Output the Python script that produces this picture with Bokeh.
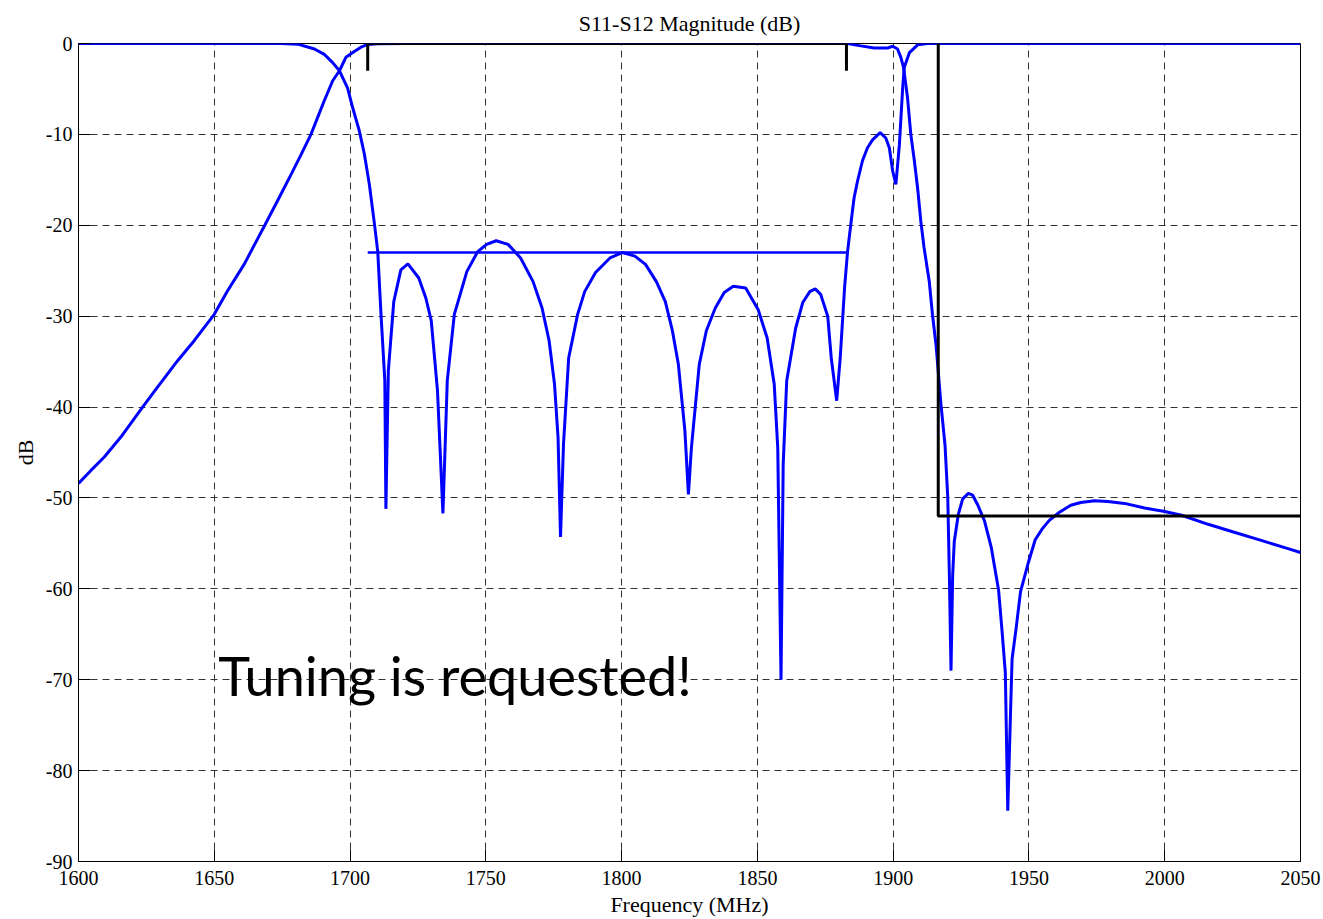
from bokeh.plotting import figure
from bokeh.models import FixedTicker, CustomJSTickFormatter
from bokeh.core.properties import value
from bokeh.embed import file_html
from bokeh.resources import INLINE

# ---------------- data ----------------
s21_freq = [1600, 1604.5, 1609.5, 1615.6, 1623.6, 1629.1, 1636.5, 1642.6, 1650, 1654.9,
            1661, 1668.4, 1673.3, 1678.3, 1682, 1685.6, 1690.5, 1693.6, 1696.1, 1698.5,
            1701, 1704, 1706.5, 1710, 1720, 1800, 1883.2, 1888.1, 1893, 1897.9,
            1899.8, 1901.6, 1902.8, 1903.8, 1905.3, 1906.5, 1907.8, 1909, 1910.2, 1911.4,
            1913.3, 1914.5, 1915.8, 1917.6, 1919.1, 1920.1, 1920.7, 1921.3, 1921.9, 1922.5,
            1924.0, 1925.6, 1927.7, 1929.3, 1931.2, 1933.6, 1936.1, 1937.3, 1938.8, 1940.0,
            1941.3, 1942.2, 1943.2, 1943.8, 1945.3, 1946.9, 1949.6, 1952.3, 1954.9, 1957.4,
            1961.1, 1965.4, 1969.1, 1974.1, 1979, 1985.2, 1992.6, 2000, 2006.2, 2016,
            2025.9, 2035.8, 2045.7, 2050]
s21_db = [-48.4, -47.0, -45.5, -43.3, -40.0, -37.8, -34.9, -32.7, -29.8, -27.2,
          -24.3, -20.1, -17.3, -14.4, -12.2, -10.0, -6.3, -4.1, -3.0, -1.5,
          -1.0, -0.4, -0.1, -0.02, 0.0, 0.0, 0.0, -0.26, -0.5, -0.5,
          -0.3, -0.6, -1.5, -2.6, -6.0, -10.0, -12.9, -15.9, -19.6, -22.5,
          -26.2, -29.9, -33.2, -39.7, -44.2, -49.9, -58.6, -69.0, -58.6, -54.8,
          -51.8, -50.1, -49.5, -49.7, -50.8, -52.5, -55.4, -57.5, -60.1, -64.3,
          -69.2, -84.4, -73.8, -67.7, -64.3, -60.3, -57.3, -54.6, -53.4, -52.5,
          -51.6, -50.8, -50.5, -50.3, -50.4, -50.6, -51.1, -51.5, -51.9, -52.9,
          -53.8, -54.7, -55.6, -56.0]

s11_freq = [1600, 1670, 1674.6, 1680.7, 1686.9, 1690.5, 1693.6, 1696.1, 1699.1, 1701,
            1703.4, 1705.3, 1707.1, 1709, 1710.2, 1711.4, 1712.8, 1713.2, 1714.1, 1716.1,
            1718.7, 1721.3, 1725.3, 1727.9, 1729.9, 1732.2, 1734.2, 1735.8, 1738.4, 1743.0,
            1747.0, 1750.3, 1753.8, 1758.2, 1762.8, 1767.4, 1770.7, 1773.3, 1775.3, 1776.6,
            1777.5, 1778.6, 1780.5, 1783.8, 1786.4, 1790.4, 1795.7, 1800.3, 1804.9, 1808.8,
            1812.8, 1816.1, 1818.7, 1820.9, 1823.3, 1824.6, 1825.7, 1828.6, 1831.2, 1834.5,
            1837.8, 1841.1, 1845.7, 1850.3, 1853.6, 1856.2, 1857.5, 1858.7, 1859.5, 1860.8,
            1864.1, 1866.7, 1869.3, 1871.3, 1873.3, 1875.9, 1877.2, 1879.2, 1880.5, 1882.1,
            1883.2, 1884.4, 1885.6, 1886.9, 1888.7, 1890.5, 1892.4, 1895.2, 1897.3, 1898.6,
            1899.8, 1901.0, 1902.3, 1903.5, 1904.1, 1906.0, 1909.0, 1912.7, 2050]
s11_db = [0.0, 0.0, 0.0, -0.07, -0.6, -1.2, -2.1, -3.0, -4.9, -7.1,
          -9.6, -12.2, -15.5, -19.9, -22.9, -29.8, -37.1, -51.2, -36.0, -28.4,
          -24.9, -24.25, -25.8, -28.0, -30.5, -38.2, -51.7, -37.1, -29.8, -25.1,
          -22.9, -22.1, -21.7, -22.1, -23.6, -26.2, -29.1, -32.7, -37.5, -43.4,
          -54.3, -44.1, -34.6, -29.8, -27.3, -25.2, -23.6, -23.0, -23.4, -24.3,
          -26.2, -28.4, -31.6, -35.3, -42.6, -49.6, -44.5, -35.3, -31.6, -29.1,
          -27.4, -26.7, -26.9, -29.3, -32.4, -37.5, -44.5, -70.0, -46.3, -37.1,
          -31.3, -28.5, -27.3, -27.0, -27.6, -30.0, -34.6, -39.3, -34.6, -26.9,
          -22.9, -19.9, -17.0, -15.1, -12.9, -11.5, -10.6, -9.8, -10.4, -11.5,
          -14.0, -15.5, -11.1, -4.9, -2.6, -1.0, -0.15, 0.0, 0.0]

# specification mask
passband_edges = [1706.5, 1882.8]
passband_il_limit = 0.0
passband_marker_depth = -3.0
return_loss_limit = -23.0
rejection_edge = 1916.6
rejection_level = -52.0
x_end = 2050

x_ticks = list(range(1600, 2051, 50))
y_ticks = list(range(-90, 1, 10))

# ---------------- figure ----------------
SERIF = "Liberation Serif"
p = figure(width=1323, height=919, x_range=(1600, 2050), y_range=(-90, 0),
           output_backend="svg", toolbar_location=None,
           min_border_left=78, min_border_right=23, min_border_top=42, min_border_bottom=58)

p.title.text = "S11-S12 Magnitude (dB)"
p.title.text_font = SERIF
p.title.text_font_size = "22px"
p.title.text_font_style = "normal"
p.title.text_color = "black"
p.title.align = "center"
p.title.standoff = 16

p.outline_line_color = "black"
p.outline_line_width = 1
p.outline_line_alpha = 1

plain = CustomJSTickFormatter(code="return String(tick);")
for ax in (p.xaxis[0], p.yaxis[0]):
    ax.formatter = plain
    ax.axis_line_color = "black"
    ax.major_tick_line_color = "black"
    ax.major_tick_in = 12
    ax.major_tick_out = 0
    ax.minor_tick_line_color = None
    ax.major_label_text_font = SERIF
    ax.major_label_text_font_size = "20px"
    ax.major_label_text_color = "black"
    ax.axis_label_text_font = SERIF
    ax.axis_label_text_font_size = "22px"
    ax.axis_label_text_font_style = "normal"
    ax.axis_label_text_color = "black"

p.xaxis.ticker = FixedTicker(ticks=x_ticks)
p.yaxis.ticker = FixedTicker(ticks=y_ticks)
p.xaxis.axis_label = "Frequency (MHz)"
p.yaxis.axis_label = "dB"
p.xaxis.major_label_standoff = 9
p.yaxis.major_label_standoff = 6
p.xaxis.axis_label_standoff = 4
p.yaxis.axis_label_standoff = 5

for g in (p.xgrid[0], p.ygrid[0]):
    g.grid_line_color = "#333333"
    g.grid_line_dash = "7 5"
    g.grid_line_width = 1
    g.grid_line_alpha = 1

BLUE = "#0000FF"
p.line(s21_freq, s21_db, line_color=BLUE, line_width=3)
p.line(s11_freq, s11_db, line_color=BLUE, line_width=3)

# return-loss spec (blue)
p.line(passband_edges, [return_loss_limit, return_loss_limit], line_color=BLUE, line_width=2.6)

# passband insertion-loss bracket (black)
p.line([passband_edges[0], passband_edges[0], passband_edges[1], passband_edges[1]],
       [passband_marker_depth, passband_il_limit, passband_il_limit, passband_marker_depth],
       line_color="black", line_width=3)

# rejection mask (black)
p.line([rejection_edge, rejection_edge, x_end],
       [passband_il_limit, rejection_level, rejection_level],
       line_color="black", line_width=3)

p.text(x=[1651.5], y=[-69.5], text=["Tuning is requested!"],
       text_font=value("Lato"), text_font_size="54px", text_color="black",
       text_baseline="alphabetic", text_align="left")

open("out.html", "w").write(file_html(p, INLINE))
